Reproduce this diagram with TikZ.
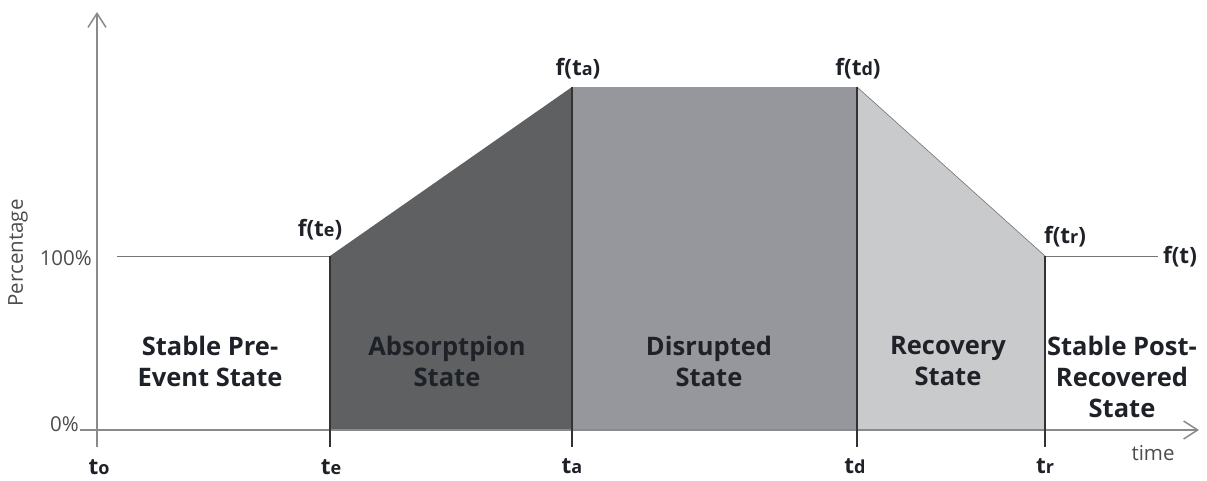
\documentclass[tikz,border=0pt]{standalone}
\usepackage{fontspec}
\setmainfont{Open Sans}
\usetikzlibrary{arrows.meta}
\definecolor{absorb}{HTML}{5E6062}
\definecolor{disrupt}{HTML}{96979D}
\definecolor{recov}{HTML}{C9CACC}
\definecolor{axisgray}{HTML}{8A8A8A}
\definecolor{txt}{HTML}{1E2128}
\tikzset{
  axisline/.style={draw=axisgray, line width=1.8pt, -{Straight Barb[length=14pt,width=18pt,line width=1.5pt]}},
  levelline/.style={draw=axisgray!85!black, line width=1pt},
  divider/.style={draw=black!80, line width=1.4pt},
  statelabel/.style={font=\bfseries\fontsize{25.5}{31}\selectfont, text=txt, align=center, inner sep=0pt},
  ptlabel/.style={font=\bfseries\fontsize{22.5}{24}\selectfont, text=txt, inner sep=0pt},
  smalllabel/.style={font=\fontsize{20.5}{22}\selectfont, text=black!70, inner sep=0pt},
}
\newcommand{\sub}[1]{{\fontsize{18}{20}\selectfont #1}}
\begin{document}
\begin{tikzpicture}[x=1pt,y=-1pt]
\useasboundingbox (0,0) rectangle (1207,481);
% key points
\coordinate (o) at (97,430);
\coordinate (ytop) at (97,12);
\coordinate (ybot) at (97,447);
\coordinate (xleft) at (80,430);
\coordinate (xright) at (1199,430);
\coordinate (l100) at (117,256);
\coordinate (Fe) at (330,256);
\coordinate (Fa) at (572,87);
\coordinate (Fd) at (857,87);
\coordinate (Fr) at (1045,256);
\coordinate (Fend) at (1158,256);
\coordinate (Be) at (330,430);
\coordinate (Ba) at (572,430);
\coordinate (Bd) at (857,430);
\coordinate (Br) at (1045,430);
\coordinate (Te) at (330,447);
\coordinate (Ta) at (572,447);
\coordinate (Td) at (857,447);
\coordinate (Tr) at (1045,447);
% fills
\fill[absorb] (Fe) -- (Fa) -- (Ba) -- (Be) -- cycle;
\fill[disrupt] (Fa) -- (Fd) -- (Bd) -- (Ba) -- cycle;
\fill[recov] (Fd) -- (Fr) -- (Br) -- (Bd) -- cycle;
\draw[draw=black!55, line width=0.6pt] (Fd) -- (Fr);
% level lines
\draw[levelline] (l100) -- (Fe);
\draw[levelline] (Fr) -- (Fend);
% axes
\draw[axisline] (xleft) -- (xright);
\draw[axisline] (ybot) -- (ytop);
% dividers
\draw[divider] (Fe) -- (Te);
\draw[divider] (Fa) -- (Ta);
\draw[divider] (Fd) -- (Td);
\draw[divider] (Fr) -- (Tr);
% axis labels
\node[smalllabel, rotate=90] (perc) at (18,253) {Percentage};
\node[smalllabel, anchor=east] (p100) at (92,258) {100\%};
\node[smalllabel, anchor=east] (p0) at (79,424) {0\%};
\node[smalllabel] (time) at (1153,453) {time};
% tick labels
\node[ptlabel] (t0) at (99,467) {t\sub{o}};
\node[ptlabel] (te) at (331,467) {t\sub{e}};
\node[ptlabel] (ta) at (572,466) {t\sub{a}};
\node[ptlabel] (td) at (855,466) {t\sub{d}};
\node[ptlabel] (tr) at (1045,466) {t\sub{r}};
% function labels
\node[ptlabel] (fte) at (320,230) {f(t\sub{e})};
\node[ptlabel] (fta) at (578,69) {f(t\sub{a})};
\node[ptlabel] (ftd) at (858,69) {f(t\sub{d})};
\node[ptlabel] (ftr) at (1065,237) {f(t\sub{r})};
\node[ptlabel] (ft) at (1180,257) {f(t)};
% state labels
\node[statelabel] (s1) at (210,361) {Stable Pre-\\Event State};
\node[statelabel] (s2) at (447,361) {Absorptpion\\State};
\node[statelabel] (s3) at (709,361) {Disrupted\\State};
\node[statelabel] (s4) at (948,361) {Recovery\\State};
\node[statelabel] (s5) at (1122,377) {Stable Post-\\Recovered\\State};
\end{tikzpicture}
\end{document}
